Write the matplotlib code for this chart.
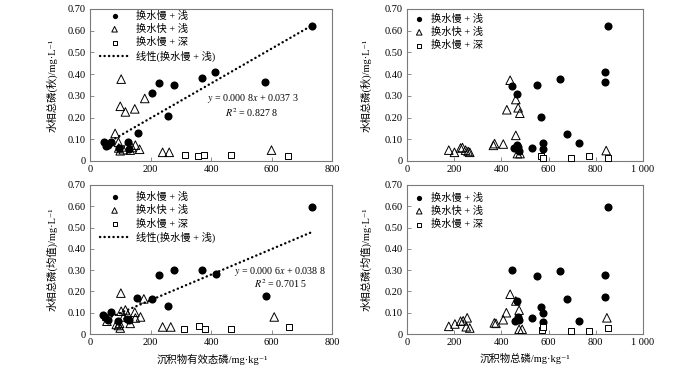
import matplotlib
matplotlib.use('Agg')
import matplotlib.pyplot as plt

plt.rcParams['font.family'] = ['Liberation Serif', 'Noto Sans CJK SC', 'DejaVu Serif']
plt.rcParams['mathtext.fontset'] = 'stix'

# ---- data ----
# sediment available P (mg/kg) vs water TP autumn (mg/L)
ap_slow_shallow_x = [45, 52, 60, 68, 95, 125, 128, 158, 206, 228, 259, 278, 370, 414, 577, 735]
ap_slow_shallow_y = [0.088, 0.068, 0.072, 0.088, 0.062, 0.088, 0.057, 0.130, 0.314, 0.357, 0.207, 0.350, 0.381, 0.412, 0.365, 0.620]
ap_fast_shallow_x = [103, 100, 117, 148, 181, 83, 94, 95, 100, 110, 120, 133, 139, 150, 164, 240, 262, 600]
ap_fast_shallow_y = [0.377, 0.252, 0.226, 0.240, 0.288, 0.127, 0.086, 0.060, 0.047, 0.052, 0.065, 0.050, 0.062, 0.073, 0.054, 0.040, 0.040, 0.050]
ap_slow_deep_x = [313, 357, 378, 467, 655]
ap_slow_deep_y = [0.027, 0.021, 0.027, 0.027, 0.021]

# sediment TP (mg/kg) vs water TP autumn
tp_slow_shallow_x = [447, 465, 550, 650, 837, 837, 851, 567, 677, 730, 468, 454, 475, 528, 577, 577, 470]
tp_slow_shallow_y = [0.344, 0.310, 0.352, 0.378, 0.410, 0.362, 0.620, 0.203, 0.123, 0.082, 0.075, 0.062, 0.048, 0.062, 0.082, 0.054, 0.065]
tp_fast_shallow_x = [437, 461, 423, 471, 478, 461, 371, 408, 366, 177, 201, 227, 235, 248, 259, 266, 468, 479, 844]
tp_fast_shallow_y = [0.372, 0.283, 0.236, 0.245, 0.220, 0.118, 0.080, 0.078, 0.072, 0.050, 0.040, 0.060, 0.062, 0.050, 0.044, 0.040, 0.034, 0.034, 0.048]
tp_slow_deep_x = [567, 577, 695, 770, 851]
tp_slow_deep_y = [0.022, 0.016, 0.015, 0.021, 0.015]

# sediment available P vs water TP mean
ap_m_slow_shallow_x = [44, 50, 61, 70, 92, 122, 128, 155, 205, 228, 259, 278, 370, 415, 583, 735]
ap_m_slow_shallow_y = [0.091, 0.080, 0.066, 0.104, 0.059, 0.070, 0.068, 0.168, 0.163, 0.277, 0.131, 0.303, 0.300, 0.283, 0.180, 0.598]
ap_m_fast_shallow_x = [102, 178, 103, 117, 148, 56, 94, 100, 98, 133, 150, 167, 111, 125, 87, 240, 267, 609]
ap_m_fast_shallow_y = [0.192, 0.165, 0.107, 0.113, 0.102, 0.060, 0.040, 0.028, 0.050, 0.050, 0.075, 0.080, 0.080, 0.090, 0.045, 0.033, 0.033, 0.080]
ap_m_slow_deep_x = [311, 359, 381, 467, 658]
ap_m_slow_deep_y = [0.022, 0.036, 0.022, 0.022, 0.034]

# sediment TP vs water TP mean
tp_m_slow_shallow_x = [851, 447, 550, 648, 837, 837, 678, 464, 567, 577, 528, 471, 457, 475, 577, 730]
tp_m_slow_shallow_y = [0.597, 0.302, 0.272, 0.298, 0.276, 0.175, 0.164, 0.153, 0.127, 0.100, 0.074, 0.080, 0.062, 0.068, 0.058, 0.062]
tp_m_fast_shallow_x = [437, 421, 475, 461, 408, 377, 370, 177, 203, 227, 238, 255, 251, 266, 475, 488, 847]
tp_m_fast_shallow_y = [0.187, 0.100, 0.112, 0.155, 0.067, 0.050, 0.052, 0.036, 0.047, 0.060, 0.062, 0.076, 0.034, 0.028, 0.022, 0.022, 0.076]
tp_m_slow_deep_x = [570, 577, 695, 773, 851]
tp_m_slow_deep_y = [0.019, 0.031, 0.016, 0.016, 0.028]

# linear fits (slope, intercept) as printed
fit_autumn = (0.0008, 0.0373)
fit_mean = (0.0006, 0.0388)

y_ticks = [0, 0.1, 0.2, 0.3, 0.4, 0.5, 0.6, 0.7]
y_ticklabels = ['0', '0.10', '0.20', '0.30', '0.40', '0.50', '0.60', '0.70']
x_ticks_ap = [0, 200, 400, 600, 800]
x_ticklabels_ap = ['0', '200', '400', '600', '800']
x_ticks_tp = [0, 200, 400, 600, 800, 1000]
x_ticklabels_tp = ['0', '200', '400', '600', '800', '1 000']

lab_a = '换水慢 + 浅'
lab_b = '换水快 + 浅'
lab_c = '换水慢 + 深'
lab_fit = '线性(换水慢 + 浅)'

fig = plt.figure(figsize=(7, 3.7), dpi=100)
W, H = 700.0, 370.0
ax1 = fig.add_axes([90 / W, 1 - 161 / H, 242 / W, 152 / H])
ax2 = fig.add_axes([407 / W, 1 - 161 / H, 236 / W, 152 / H])
ax3 = fig.add_axes([90 / W, 1 - 334 / H, 242 / W, 149 / H])
ax4 = fig.add_axes([407 / W, 1 - 334 / H, 236 / W, 149 / H])

fs = 7.5
grey = '#7a7a7a'


def points(ax, cx, cy, tx, ty, sx, sy):
    ax.scatter(cx, cy, s=34, c='black', marker='o', linewidths=0, label=lab_a, zorder=3)
    ax.scatter(tx, ty, s=38, facecolors='none', edgecolors='black', marker='^',
               linewidths=0.7, label=lab_b, zorder=4)
    ax.scatter(sx, sy, s=14, facecolors='white', edgecolors='black', marker='s',
               linewidths=0.7, label=lab_c, zorder=4)


def style(ax, xt, xtl, xmax):
    ax.set_xlim(0, xmax)
    ax.set_ylim(0, 0.7)
    ax.set_xticks(xt)
    ax.set_xticklabels(xtl, fontsize=fs)
    ax.set_yticks(y_ticks)
    ax.set_yticklabels(y_ticklabels, fontsize=fs)
    ax.tick_params(direction='in', length=3, width=0.6, color=grey, pad=3)
    for sp in ax.spines.values():
        sp.set_color(grey)
        sp.set_linewidth(0.8)


def fitline(ax, xs, coef):
    x0, x1 = min(xs), max(xs)
    ax.plot([x0, x1], [coef[0] * x0 + coef[1], coef[0] * x1 + coef[1]], color='black',
            lw=1.7, linestyle=(0, (0.1, 1.8)), dash_capstyle='round', label=lab_fit, zorder=2)


# top left
points(ax1, ap_slow_shallow_x, ap_slow_shallow_y, ap_fast_shallow_x, ap_fast_shallow_y,
       ap_slow_deep_x, ap_slow_deep_y)
fitline(ax1, ap_slow_shallow_x, fit_autumn)
style(ax1, x_ticks_ap, x_ticklabels_ap, 800)
ax1.text(0.674, 0.414, '$y$ = 0.000 8$x$ + 0.037 3', transform=ax1.transAxes,
         ha='center', va='center', fontsize=7.2)
ax1.text(0.669, 0.322, '$R^2$ = 0.827 8', transform=ax1.transAxes,
         ha='center', va='center', fontsize=7.2)

# top right
points(ax2, tp_slow_shallow_x, tp_slow_shallow_y, tp_fast_shallow_x, tp_fast_shallow_y,
       tp_slow_deep_x, tp_slow_deep_y)
style(ax2, x_ticks_tp, x_ticklabels_tp, 1000)

# bottom left
points(ax3, ap_m_slow_shallow_x, ap_m_slow_shallow_y, ap_m_fast_shallow_x, ap_m_fast_shallow_y,
       ap_m_slow_deep_x, ap_m_slow_deep_y)
fitline(ax3, ap_m_slow_shallow_x, fit_mean)
style(ax3, x_ticks_ap, x_ticklabels_ap, 800)
ax3.text(0.785, 0.418, '$y$ = 0.000 6$x$ + 0.038 8', transform=ax3.transAxes,
         ha='center', va='center', fontsize=7.2)
ax3.text(0.789, 0.336, '$R^2$ = 0.701 5', transform=ax3.transAxes,
         ha='center', va='center', fontsize=7.2)

# bottom right
points(ax4, tp_m_slow_shallow_x, tp_m_slow_shallow_y, tp_m_fast_shallow_x, tp_m_fast_shallow_y,
       tp_m_slow_deep_x, tp_m_slow_deep_y)
style(ax4, x_ticks_tp, x_ticklabels_tp, 1000)

# legends
for ax, anchor, hl in [(ax1, (0.04, 0.99), 2.9), (ax3, (0.04, 0.955), 2.9),
                       (ax2, (0.03, 0.97), 1.0), (ax4, (0.03, 0.95), 1.0)]:
    ax.legend(loc='upper left', bbox_to_anchor=anchor, frameon=False, fontsize=7.4,
              markerscale=0.65, handlelength=hl, handletextpad=0.6, labelspacing=0.32,
              borderpad=0, borderaxespad=0)

# axis labels
ax1.set_ylabel('水相总磷(秋)/mg·L⁻¹', fontsize=fs)
ax2.set_ylabel('水相总磷(秋)/mg·L⁻¹', fontsize=fs)
ax3.set_ylabel('水相总磷(均值)/mg·L⁻¹', fontsize=fs)
ax4.set_ylabel('水相总磷(均值)/mg·L⁻¹', fontsize=fs)
ax1.yaxis.set_label_coords(-0.132, 0.5)
ax3.yaxis.set_label_coords(-0.132, 0.5)
ax2.yaxis.set_label_coords(-0.148, 0.5)
ax4.yaxis.set_label_coords(-0.148, 0.5)
ax3.set_xlabel('沉积物有效态磷/mg·kg⁻¹', fontsize=fs)
ax4.set_xlabel('沉积物总磷/mg·kg⁻¹', fontsize=fs)
ax3.xaxis.set_label_coords(0.504, -0.135)
ax4.xaxis.set_label_coords(0.5, -0.125)

fig.savefig('out.png', dpi=100, facecolor='white')
